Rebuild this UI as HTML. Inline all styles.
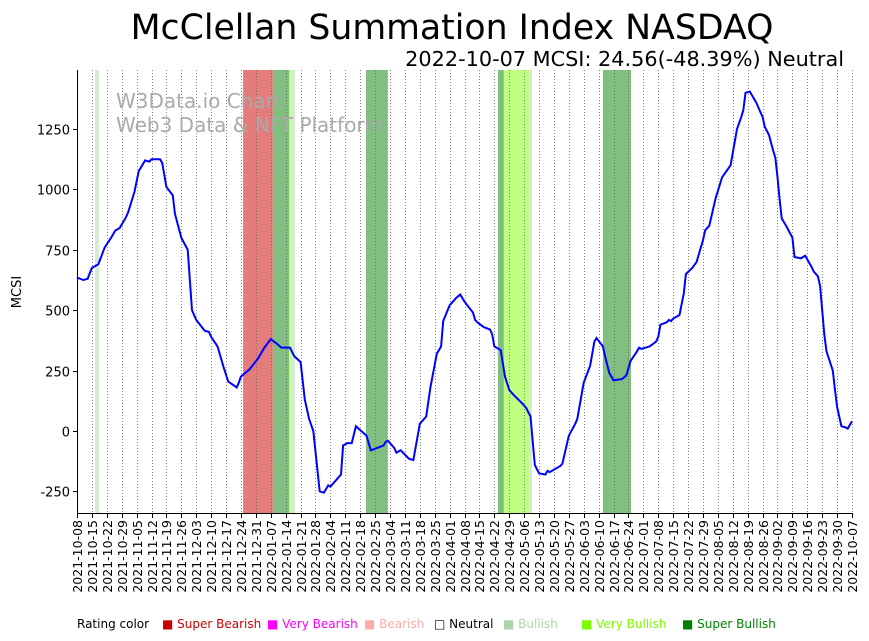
<!DOCTYPE html>
<html><head><meta charset="utf-8">
<style>
body{margin:0;background:#fff;width:869px;height:641px;overflow:hidden;font-family:"DejaVu Sans","Liberation Sans",sans-serif;}
.lg{position:absolute;top:617px;font-size:12px;white-space:nowrap;}
</style></head>
<body>
<svg width="869" height="641" style="position:absolute;left:0;top:0">
<text x="452" y="39" font-size="34.7" text-anchor="middle">McClellan Summation Index NASDAQ</text>
<text x="844" y="66" font-size="20.8" text-anchor="end">2022-10-07 MCSI: 24.56(-48.39%) Neutral</text>
<g id="bands"></g>
<g id="grid"></g>
<text x="116" y="108" font-size="20" fill="#aaa">W3Data.io Chart</text>
<text x="116" y="132" font-size="20" fill="#aaa">Web3 Data &amp; NFT Platform</text>
<path id="line" fill="none" stroke="#0000ff" stroke-width="2"></path>
<line x1="77.5" y1="70" x2="77.5" y2="514" stroke="#000"/>
<line x1="77" y1="513.5" x2="853" y2="513.5" stroke="#000"/>
<g id="yt"></g><g id="xt"></g>
<text transform="translate(21,292) rotate(-90)" font-size="13" text-anchor="middle">MCSI</text>
</svg>
<div class="lg" style="left:77px">Rating color</div>
<div class="lg" style="left:162px;color:#c80000">■ Super Bearish</div>
<div class="lg" style="left:267px;color:#ff00ff">■ Very Bearish</div>
<div class="lg" style="left:364px;color:#ffaaaa">■ Bearish</div>
<div class="lg" style="left:434px;color:#000">□ Neutral</div>
<div class="lg" style="left:503px;color:#aad5aa">■ Bullish</div>
<div class="lg" style="left:581px;color:#7cfc00">■ Very Bullish</div>
<div class="lg" style="left:682px;color:#008000">■ Super Bullish</div>
<script>
const days=[0,3,5,7,10,13,16,18,20,23,24,27,29,32,34,35,39,40,42,45,46,49,52,54,56,60,62,63,66,69,71,75,76,77,81,85,88,91,94,96,100,102,105,107,109,111,114,116,118,119,122,124,125,127,129,131,136,138,141,144,145,146,149,150,152,156,158,161,164,166,169,171,172,175,178,180,182,186,187,188,191,194,195,196,199,201,203,205,209,211,213,215,217,220,221,222,227,228,231,234,235,238,241,243,244,247,248,250,252,256,258,260,263,264,265,269,272,273,274,277,278,279,280,283,285,286,289,291,294,295,297,300,303,307,310,312,313,314,316,319,321,322,323,325,327,328,329,330,331,333,336,337,340,342,344,345,346,348,349,350,351,352,355,356,357,359,361,362,364];
const values=[635,625,630,675,690,760,800,830,840,885,905,990,1075,1120,1115,1125,1125,1110,1010,975,900,800,750,500,460,415,410,390,350,260,205,180,200,225,255,300,345,380,360,345,345,310,285,130,50,0,-250,-255,-225,-230,-200,-180,-60,-50,-50,20,-20,-80,-70,-60,-45,-40,-70,-90,-80,-115,-120,30,60,180,320,350,455,520,550,565,535,490,460,450,430,420,400,350,335,225,170,150,115,95,60,-140,-175,-180,-165,-170,-145,-135,-20,30,50,200,270,370,385,350,310,240,210,215,230,290,330,345,340,350,370,390,440,450,460,455,465,480,570,650,675,700,790,830,850,965,1050,1100,1250,1300,1330,1400,1405,1360,1320,1300,1260,1225,1160,1130,1050,960,880,850,800,720,715,725,695,680,660,640,600,500,400,330,250,170,100,20,15,10,40,25];
const bandStart=[8.5,78,92,99.6,100.5,135.7,197.7,200.5,212.3,247];
const bandEnd=[10.3,92,99.6,100.5,102.4,146,200.5,212.3,213.7,260.2];
const bandColor=["#d4ead4","#e47c7c","#80bf80","#bffe80","#d4ead4","#80bf80","#80bf80","#bffe80","#d4ead4","#80bf80"];
const yTicks=[-250,0,250,500,750,1000,1250];
const weekLabels=[];
const start=new Date(Date.UTC(2021,9,8));
for(let i=0;i<=52;i++){const d=new Date(start.getTime()+i*7*86400000);weekLabels.push(d.toISOString().slice(0,10));}
const X=d=>77+d*775/364;
const Y=v=>431-v*0.2416;
const NS="http://www.w3.org/2000/svg";
const bg=document.getElementById('bands');
bandStart.forEach((s,i)=>{const r=document.createElementNS(NS,'rect');
r.setAttribute('x',X(s));r.setAttribute('y',70);r.setAttribute('width',X(bandEnd[i])-X(s));r.setAttribute('height',443);r.setAttribute('fill',bandColor[i]);


bg.appendChild(r);});
const gg=document.getElementById('grid'),xt=document.getElementById('xt');
weekLabels.forEach((lab,i)=>{const x=Math.round(X(i*7))+0.5;
if(i>0){const l=document.createElementNS(NS,'line');l.setAttribute('x1',x);l.setAttribute('x2',x);l.setAttribute('y1',70);l.setAttribute('y2',513);l.setAttribute('stroke','#666');l.setAttribute('stroke-width','0.8');l.setAttribute('stroke-dasharray','1,2');


gg.appendChild(l);}
const tk=document.createElementNS(NS,'line');tk.setAttribute('x1',x);tk.setAttribute('x2',x);tk.setAttribute('y1',514);tk.setAttribute('y2',518);tk.setAttribute('stroke','#000');


xt.appendChild(tk);
const t=document.createElementNS(NS,'text');t.setAttribute('transform','translate('+(x+4.5)+',520) rotate(-90)');t.setAttribute('text-anchor','end');t.setAttribute('font-size','12.5');t.textContent=lab;


xt.appendChild(t);});
const yt=document.getElementById('yt');
yTicks.forEach(v=>{const y=Math.round(Y(v))+0.5;
const tk=document.createElementNS(NS,'line');tk.setAttribute('x1',73);tk.setAttribute('x2',77);tk.setAttribute('y1',y);tk.setAttribute('y2',y);tk.setAttribute('stroke','#000');


yt.appendChild(tk);
const t=document.createElementNS(NS,'text');t.setAttribute('x',70);t.setAttribute('y',y+5);t.setAttribute('text-anchor','end');t.setAttribute('font-size','13');t.textContent=v;


yt.appendChild(t);});
document.getElementById('line').setAttribute('d',days.map((d,i)=>(i?'L':'M')+X(d).toFixed(1)+','+Y(values[i]).toFixed(1)).join(''));
</script>
</body></html>
